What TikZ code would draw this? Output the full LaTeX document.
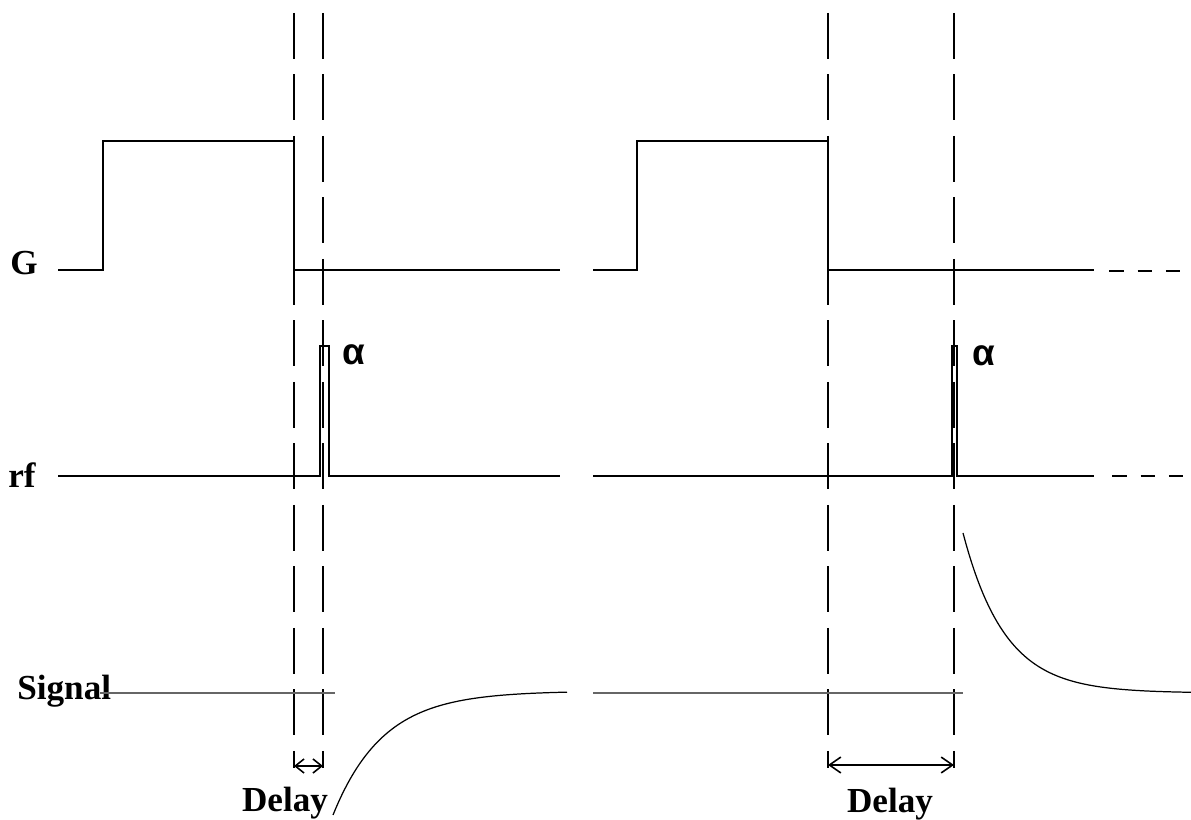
\documentclass[tikz,border=0pt]{standalone}
\usepackage{fontspec}
\setmainfont{Liberation Serif}
\newfontfamily\alphafont{Liberation Sans}
\usetikzlibrary{arrows.meta}
\begin{document}
\begin{tikzpicture}[x=0.02cm,y=-0.02cm,
  trace/.style={line width=0.9pt, line join=miter},
  tail/.style={line width=0.9pt, dash pattern=on 0.29cm off 0.28cm},
  curve/.style={line width=0.7pt},
  guide/.style={line width=0.8pt, dash pattern=on 0.92cm off 0.31cm},
  sigbase/.style={line width=0.9pt, black!60},
  lab/.style={font=\bfseries\fontsize{20}{24}\selectfont, inner sep=0pt},
  greek/.style={font=\alphafont\bfseries\fontsize{21}{24}\selectfont, inner sep=0pt},
  bigdelay/.style={line width=0.9pt, {Straight Barb[length=6.5pt,width=9pt]}-{Straight Barb[length=6.5pt,width=9pt]}},
  smalldelay/.style={line width=0.9pt, {Straight Barb[length=5pt,width=8pt]}-{Straight Barb[length=5pt,width=8pt]}}]
\useasboundingbox (0,0) rectangle (1191,820);
% guide coordinates
\coordinate (g1t) at (294,13);  \coordinate (g1b) at (294,768);
\coordinate (g2t) at (323,13);  \coordinate (g2b) at (323,768);
\coordinate (g3t) at (828,13);  \coordinate (g3b) at (828,768);
\coordinate (g4t) at (954,13);  \coordinate (g4b) at (954,768);
\draw[guide] (g1t) -- (g1b);
\draw[guide] (g2t) -- (g2b);
\draw[guide] (g3t) -- (g3b);
\draw[guide] (g4t) -- (g4b);
% labels
\node[lab, anchor=base west] (G) at (10,275) {G};
\node[lab, anchor=base west] (rf) at (8,488) {rf};
\node[lab, anchor=base west] (sig) at (17,700) {Signal};
\node[lab, anchor=base] (delay1) at (285,812) {Delay};
\node[lab, anchor=base] (delay2) at (890,813) {Delay};
\node[greek, anchor=base] (alpha1) at (354,365) {α};
\node[greek, anchor=base] (alpha2) at (984,366) {α};
% G traces
\draw[trace] (58,270) -- (103,270) -- (103,141) -- (294,141) -- (294,270) -- (560,270);
\draw[trace] (593,270) -- (637,270) -- (637,141) -- (828,141) -- (828,270) -- (1094,270);
\draw[tail] (1109,271) -- (1181,271);
% rf traces
\draw[trace] (58,476) -- (320,476) -- (320,346) -- (329,346) -- (329,476) -- (560,476);
\draw[trace] (593,476) -- (952,476) -- (952,346) -- (957,346) -- (957,476) -- (1094,476);
\draw[tail] (1112,476) -- (1184,476);
% signal
\draw[sigbase] (100,693) -- (335,693);
\draw[sigbase] (593,693) -- (963,693);
\draw[curve] plot[domain=333:567, samples=80] (\x, {691+124*exp(-(\x-333)/50)});
\draw[curve] plot[domain=963:1191, samples=80] (\x, {693-160*exp(-(\x-963)/42)});
% delay arrows
\coordinate (a1) at (294,766); \coordinate (a2) at (323,766);
\coordinate (a3) at (828,765); \coordinate (a4) at (954,765);
\draw[smalldelay] (a1) -- (a2);
\draw[bigdelay] (a3) -- (a4);
\end{tikzpicture}
\end{document}
